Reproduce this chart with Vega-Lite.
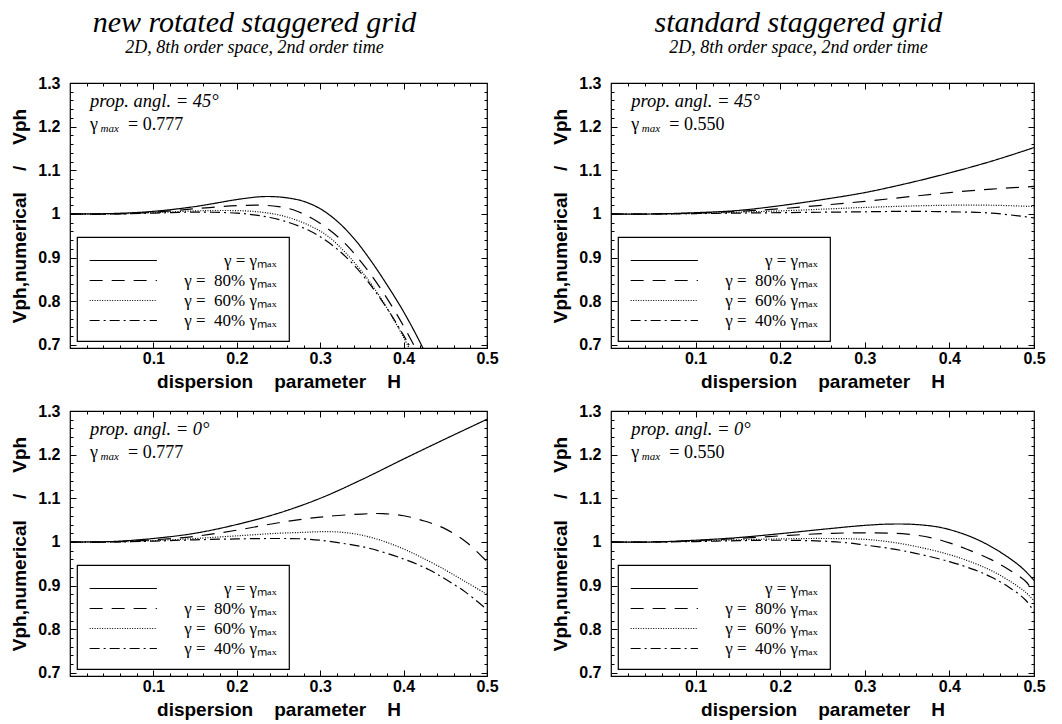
{
  "$schema": "https://vega.github.io/schema/vega-lite/v6.json",
  "padding": {"left": 10, "top": 7, "right": 5, "bottom": 2},
  "config": {
    "view": {"stroke": "black", "strokeWidth": 1.2},
    "font": "Liberation Sans",
    "axis": {"domain": false, "grid": false, "ticks": true, "tickColor": "black", "tickWidth": 1, "labelColor": "black", "labelFont": "Liberation Sans", "labelFontWeight": "bold", "labelFontSize": 16, "titleColor": "black", "titleFont": "Liberation Sans", "titleFontWeight": "bold", "titleFontSize": 19, "labelFlush": false, "labelOverlap": false},
    "title": {"font": "Liberation Serif", "fontStyle": "italic", "fontWeight": "normal", "fontSize": 30, "color": "black", "subtitleFont": "Liberation Serif", "subtitleFontStyle": "italic", "subtitleFontSize": 18, "subtitleColor": "black", "anchor": "middle", "frame": "bounds", "offset": 18, "subtitlePadding": 1},
    "legend": {"orient": "bottom-left", "offset": 7, "title": null, "symbolType": "M-1,0H5.2", "symbolSize": 471, "symbolStrokeWidth": 1.2, "symbolStrokeColor": "black", "symbolFillColor": "transparent", "labelAlign": "right", "labelOffset": 164.6, "labelFont": "Liberation Serif", "labelFontSize": 17, "labelColor": "black", "labelLimit": 300, "strokeColor": "black", "strokeWidth": 1.2, "padding": 12, "rowPadding": 0, "fillColor": "white"}
  },
  "datasets": {
    "tl": [
      {"s":"100","H":0,"v":1.000},{"s":"100","H":0.05,"v":1.001},{"s":"100","H":0.1,"v":1.006},{"s":"100","H":0.15,"v":1.017},{"s":"100","H":0.2,"v":1.033},{"s":"100","H":0.225,"v":1.039},{"s":"100","H":0.24,"v":1.040},{"s":"100","H":0.26,"v":1.037},{"s":"100","H":0.28,"v":1.029},{"s":"100","H":0.3,"v":1.012},{"s":"100","H":0.32,"v":0.984},{"s":"100","H":0.34,"v":0.945},{"s":"100","H":0.36,"v":0.895},{"s":"100","H":0.38,"v":0.838},{"s":"100","H":0.4,"v":0.776},{"s":"100","H":0.42,"v":0.705},{"s":"100","H":0.44,"v":0.625},
      {"s":"80","H":0,"v":1.000},{"s":"80","H":0.05,"v":1.000},{"s":"80","H":0.1,"v":1.004},{"s":"80","H":0.15,"v":1.012},{"s":"80","H":0.2,"v":1.019},{"s":"80","H":0.23,"v":1.020},{"s":"80","H":0.25,"v":1.017},{"s":"80","H":0.27,"v":1.008},{"s":"80","H":0.29,"v":0.990},{"s":"80","H":0.31,"v":0.965},{"s":"80","H":0.33,"v":0.932},{"s":"80","H":0.35,"v":0.888},{"s":"80","H":0.37,"v":0.836},{"s":"80","H":0.39,"v":0.776},{"s":"80","H":0.41,"v":0.708},{"s":"80","H":0.43,"v":0.632},
      {"s":"60","H":0,"v":1.000},{"s":"60","H":0.05,"v":1.000},{"s":"60","H":0.1,"v":1.003},{"s":"60","H":0.15,"v":1.007},{"s":"60","H":0.18,"v":1.008},{"s":"60","H":0.21,"v":1.007},{"s":"60","H":0.23,"v":1.004},{"s":"60","H":0.25,"v":0.998},{"s":"60","H":0.27,"v":0.987},{"s":"60","H":0.29,"v":0.971},{"s":"60","H":0.31,"v":0.948},{"s":"60","H":0.33,"v":0.912},{"s":"60","H":0.35,"v":0.868},{"s":"60","H":0.37,"v":0.815},{"s":"60","H":0.39,"v":0.752},{"s":"60","H":0.41,"v":0.680},{"s":"60","H":0.43,"v":0.600},
      {"s":"40","H":0,"v":1.000},{"s":"40","H":0.05,"v":1.000},{"s":"40","H":0.1,"v":1.002},{"s":"40","H":0.14,"v":1.004},{"s":"40","H":0.17,"v":1.004},{"s":"40","H":0.2,"v":1.002},{"s":"40","H":0.22,"v":0.998},{"s":"40","H":0.24,"v":0.992},{"s":"40","H":0.26,"v":0.982},{"s":"40","H":0.28,"v":0.968},{"s":"40","H":0.3,"v":0.948},{"s":"40","H":0.32,"v":0.920},{"s":"40","H":0.34,"v":0.884},{"s":"40","H":0.36,"v":0.838},{"s":"40","H":0.38,"v":0.784},{"s":"40","H":0.4,"v":0.722},{"s":"40","H":0.42,"v":0.652}
    ],
    "tr": [
      {"s":"100","H":0,"v":1.000},{"s":"100","H":0.05,"v":1.000},{"s":"100","H":0.1,"v":1.003},{"s":"100","H":0.15,"v":1.008},{"s":"100","H":0.2,"v":1.019},{"s":"100","H":0.25,"v":1.033},{"s":"100","H":0.3,"v":1.049},{"s":"100","H":0.35,"v":1.070},{"s":"100","H":0.4,"v":1.094},{"s":"100","H":0.45,"v":1.121},{"s":"100","H":0.5,"v":1.152},
      {"s":"80","H":0,"v":1.000},{"s":"80","H":0.05,"v":1.000},{"s":"80","H":0.1,"v":1.002},{"s":"80","H":0.15,"v":1.006},{"s":"80","H":0.2,"v":1.012},{"s":"80","H":0.25,"v":1.020},{"s":"80","H":0.3,"v":1.029},{"s":"80","H":0.35,"v":1.039},{"s":"80","H":0.4,"v":1.049},{"s":"80","H":0.45,"v":1.057},{"s":"80","H":0.5,"v":1.063},
      {"s":"60","H":0,"v":1.000},{"s":"60","H":0.05,"v":1.000},{"s":"60","H":0.1,"v":1.001},{"s":"60","H":0.15,"v":1.004},{"s":"60","H":0.2,"v":1.007},{"s":"60","H":0.25,"v":1.011},{"s":"60","H":0.3,"v":1.015},{"s":"60","H":0.35,"v":1.018},{"s":"60","H":0.4,"v":1.020},{"s":"60","H":0.45,"v":1.020},{"s":"60","H":0.5,"v":1.017},
      {"s":"40","H":0,"v":1.000},{"s":"40","H":0.05,"v":1.000},{"s":"40","H":0.1,"v":1.001},{"s":"40","H":0.15,"v":1.002},{"s":"40","H":0.2,"v":1.003},{"s":"40","H":0.25,"v":1.004},{"s":"40","H":0.3,"v":1.005},{"s":"40","H":0.35,"v":1.006},{"s":"40","H":0.4,"v":1.005},{"s":"40","H":0.45,"v":1.002},{"s":"40","H":0.5,"v":0.991}
    ],
    "bl": [
      {"s":"100","H":0,"v":1.000},{"s":"100","H":0.05,"v":1.001},{"s":"100","H":0.1,"v":1.008},{"s":"100","H":0.15,"v":1.020},{"s":"100","H":0.2,"v":1.040},{"s":"100","H":0.25,"v":1.066},{"s":"100","H":0.3,"v":1.100},{"s":"100","H":0.35,"v":1.143},{"s":"100","H":0.4,"v":1.190},{"s":"100","H":0.45,"v":1.236},{"s":"100","H":0.5,"v":1.281},
      {"s":"80","H":0,"v":1.000},{"s":"80","H":0.05,"v":1.000},{"s":"80","H":0.1,"v":1.005},{"s":"80","H":0.15,"v":1.013},{"s":"80","H":0.2,"v":1.027},{"s":"80","H":0.25,"v":1.044},{"s":"80","H":0.3,"v":1.057},{"s":"80","H":0.35,"v":1.064},{"s":"80","H":0.375,"v":1.065},{"s":"80","H":0.4,"v":1.060},{"s":"80","H":0.425,"v":1.048},{"s":"80","H":0.45,"v":1.030},{"s":"80","H":0.475,"v":1.000},{"s":"80","H":0.5,"v":0.955},
      {"s":"60","H":0,"v":1.000},{"s":"60","H":0.05,"v":1.000},{"s":"60","H":0.1,"v":1.003},{"s":"60","H":0.15,"v":1.008},{"s":"60","H":0.2,"v":1.014},{"s":"60","H":0.25,"v":1.020},{"s":"60","H":0.28,"v":1.022},{"s":"60","H":0.3,"v":1.0235},{"s":"60","H":0.32,"v":1.023},{"s":"60","H":0.34,"v":1.019},{"s":"60","H":0.36,"v":1.011},{"s":"60","H":0.38,"v":0.999},{"s":"60","H":0.4,"v":0.984},{"s":"60","H":0.42,"v":0.966},{"s":"60","H":0.45,"v":0.936},{"s":"60","H":0.475,"v":0.908},{"s":"60","H":0.5,"v":0.880},
      {"s":"40","H":0,"v":1.000},{"s":"40","H":0.05,"v":1.000},{"s":"40","H":0.1,"v":1.002},{"s":"40","H":0.15,"v":1.005},{"s":"40","H":0.2,"v":1.007},{"s":"40","H":0.25,"v":1.008},{"s":"40","H":0.28,"v":1.007},{"s":"40","H":0.3,"v":1.004},{"s":"40","H":0.33,"v":0.996},{"s":"40","H":0.36,"v":0.985},{"s":"40","H":0.4,"v":0.961},{"s":"40","H":0.43,"v":0.937},{"s":"40","H":0.45,"v":0.915},{"s":"40","H":0.475,"v":0.884},{"s":"40","H":0.5,"v":0.845}
    ],
    "br": [
      {"s":"100","H":0,"v":1.000},{"s":"100","H":0.05,"v":1.000},{"s":"100","H":0.1,"v":1.004},{"s":"100","H":0.15,"v":1.010},{"s":"100","H":0.2,"v":1.019},{"s":"100","H":0.25,"v":1.029},{"s":"100","H":0.3,"v":1.038},{"s":"100","H":0.33,"v":1.041},{"s":"100","H":0.36,"v":1.040},{"s":"100","H":0.39,"v":1.033},{"s":"100","H":0.42,"v":1.016},{"s":"100","H":0.44,"v":0.999},{"s":"100","H":0.46,"v":0.977},{"s":"100","H":0.48,"v":0.950},{"s":"100","H":0.49,"v":0.933},{"s":"100","H":0.5,"v":0.912},
      {"s":"80","H":0,"v":1.000},{"s":"80","H":0.05,"v":1.000},{"s":"80","H":0.1,"v":1.003},{"s":"80","H":0.15,"v":1.008},{"s":"80","H":0.2,"v":1.014},{"s":"80","H":0.25,"v":1.019},{"s":"80","H":0.3,"v":1.021},{"s":"80","H":0.35,"v":1.018},{"s":"80","H":0.38,"v":1.009},{"s":"80","H":0.4,"v":0.998},{"s":"80","H":0.42,"v":0.984},{"s":"80","H":0.45,"v":0.959},{"s":"80","H":0.47,"v":0.937},{"s":"80","H":0.49,"v":0.910},{"s":"80","H":0.5,"v":0.884},
      {"s":"60","H":0,"v":1.000},{"s":"60","H":0.05,"v":1.000},{"s":"60","H":0.1,"v":1.002},{"s":"60","H":0.15,"v":1.005},{"s":"60","H":0.2,"v":1.007},{"s":"60","H":0.25,"v":1.008},{"s":"60","H":0.3,"v":1.006},{"s":"60","H":0.33,"v":1.000},{"s":"60","H":0.36,"v":0.990},{"s":"60","H":0.4,"v":0.971},{"s":"60","H":0.43,"v":0.951},{"s":"60","H":0.45,"v":0.934},{"s":"60","H":0.47,"v":0.912},{"s":"60","H":0.49,"v":0.885},{"s":"60","H":0.5,"v":0.865},
      {"s":"40","H":0,"v":1.000},{"s":"40","H":0.05,"v":1.000},{"s":"40","H":0.1,"v":1.001},{"s":"40","H":0.15,"v":1.003},{"s":"40","H":0.2,"v":1.004},{"s":"40","H":0.25,"v":1.002},{"s":"40","H":0.28,"v":0.998},{"s":"40","H":0.3,"v":0.993},{"s":"40","H":0.33,"v":0.985},{"s":"40","H":0.36,"v":0.974},{"s":"40","H":0.4,"v":0.955},{"s":"40","H":0.43,"v":0.936},{"s":"40","H":0.45,"v":0.919},{"s":"40","H":0.47,"v":0.897},{"s":"40","H":0.49,"v":0.867},{"s":"40","H":0.5,"v":0.840}
    ]
  },
  "columns": 2,
  "spacing": {"row": 10, "column": 52},
  "resolve": {"scale": {"strokeDash": "independent"}, "legend": {"strokeDash": "independent"}},
  "concat": [
    {
      "width": 417, "height": 265,
      "title": {"text": "new rotated staggered grid", "subtitle": "2D, 8th order space, 2nd order time"},
      "resolve": {"axis": {"x": "independent", "y": "independent"}},
      "layer": [
        {
          "data": {"name": "tl"},
          "mark": {"type": "line", "clip": true, "color": "black", "strokeWidth": 1.2, "interpolate": "catmull-rom"},
          "encoding": {
            "x": {"field": "H", "type": "quantitative", "scale": {"domain": [0, 0.5], "nice": false, "zero": false},
              "axis": {"orient": "bottom", "values": [0.1,0.2,0.3,0.4,0.5], "format": "~g", "tickSize": -6, "labelPadding": 8, "title": "dispersion \u00a0\u00a0 parameter \u00a0\u00a0 H", "titlePadding": 6}},
            "y": {"field": "v", "type": "quantitative", "scale": {"domain": [0.693, 1.3], "nice": false, "zero": false},
              "axis": {"orient": "left", "values": [0.7,0.8,0.9,1,1.1,1.2,1.3], "format": "~g", "tickSize": -6, "labelPadding": 16, "title": "Vph,numerical \u00a0\u00a0 / \u00a0\u00a0 Vph", "titlePadding": 8}},
            "strokeDash": {"field": "s", "type": "nominal", "scale": {"domain": ["100","80","60","40"], "range": [[1,0],[13,9],[1,1.5],[10,4,2,4]]},
              "legend": {"labelExpr": "datum.value == '100' ? 'γ = γₘₐₓ' : 'γ = \u00a0' + datum.value + '% γₘₐₓ'"}}
          }
        },
        {
          "data": {"values": [{}]},
          "mark": {"type": "text", "font": "Liberation Serif", "fontStyle": "italic", "fontSize": 18.5, "align": "left", "baseline": "alphabetic", "color": "black"},
          "encoding": {
            "x": {"datum": 0.024, "type": "quantitative", "scale": {"domain": [0, 0.5], "nice": false, "zero": false},
              "axis": {"orient": "bottom", "values": [0.02,0.04,0.06,0.08,0.12,0.14,0.16,0.18,0.22,0.24,0.26,0.28,0.32,0.34,0.36,0.38,0.42,0.44,0.46,0.48], "labels": false, "title": null, "tickSize": -3}},
            "y": {"datum": 1.245, "type": "quantitative", "scale": {"domain": [0.693, 1.3], "nice": false, "zero": false},
              "axis": {"orient": "left", "values": [0.72,0.74,0.76,0.78,0.82,0.84,0.86,0.88,0.92,0.94,0.96,0.98,1.02,1.04,1.06,1.08,1.12,1.14,1.16,1.18,1.22,1.24,1.26,1.28], "labels": false, "title": null, "tickSize": -3}},
            "text": {"value": "prop. angl. = 45°"}
          }
        },
        {
          "data": {"values": [{}]},
          "mark": {"type": "text", "font": "Liberation Serif", "fontSize": 18, "align": "left", "baseline": "alphabetic", "color": "black"},
          "encoding": {
            "x": {"datum": 0.024, "type": "quantitative", "scale": {"domain": [0, 0.5], "nice": false, "zero": false},
              "axis": {"orient": "top", "values": [0.1,0.2,0.3,0.4], "labels": false, "title": null, "tickSize": -6}},
            "y": {"datum": 1.192, "type": "quantitative", "scale": {"domain": [0.693, 1.3], "nice": false, "zero": false},
              "axis": {"orient": "right", "values": [0.7,0.8,0.9,1,1.1,1.2], "labels": false, "title": null, "tickSize": -6}},
            "text": {"value": "γ"}
          }
        },
        {
          "data": {"values": [{}]},
          "mark": {"type": "text", "font": "Liberation Serif", "fontStyle": "italic", "fontSize": 11, "align": "left", "baseline": "alphabetic", "color": "black", "dx": 10.5, "dy": 2},
          "encoding": {
            "x": {"datum": 0.024, "type": "quantitative", "scale": {"domain": [0, 0.5], "nice": false, "zero": false},
              "axis": {"orient": "top", "values": [0.02,0.04,0.06,0.08,0.12,0.14,0.16,0.18,0.22,0.24,0.26,0.28,0.32,0.34,0.36,0.38,0.42,0.44,0.46,0.48], "labels": false, "title": null, "tickSize": -3}},
            "y": {"datum": 1.192, "type": "quantitative", "scale": {"domain": [0.693, 1.3], "nice": false, "zero": false},
              "axis": {"orient": "right", "values": [0.72,0.74,0.76,0.78,0.82,0.84,0.86,0.88,0.92,0.94,0.96,0.98,1.02,1.04,1.06,1.08,1.12,1.14,1.16,1.18,1.22,1.24,1.26,1.28], "labels": false, "title": null, "tickSize": -3}},
            "text": {"value": "max"}
          }
        },
        {
          "data": {"values": [{}]},
          "mark": {"type": "text", "font": "Liberation Serif", "fontSize": 18, "align": "left", "baseline": "alphabetic", "color": "black", "dx": 38},
          "encoding": {"x": {"datum": 0.024, "type": "quantitative", "axis": null}, "y": {"datum": 1.192, "type": "quantitative", "axis": null}, "text": {"value": "= 0.777"}}
        }
      ]
    },
    {
      "width": 423, "height": 265,
      "title": {"text": "standard staggered grid", "subtitle": "2D, 8th order space, 2nd order time"},
      "resolve": {"axis": {"x": "independent", "y": "independent"}},
      "layer": [
        {
          "data": {"name": "tr"},
          "mark": {"type": "line", "clip": true, "color": "black", "strokeWidth": 1.2, "interpolate": "catmull-rom"},
          "encoding": {
            "x": {"field": "H", "type": "quantitative", "scale": {"domain": [0, 0.5], "nice": false, "zero": false},
              "axis": {"orient": "bottom", "values": [0.1,0.2,0.3,0.4,0.5], "format": "~g", "tickSize": -6, "labelPadding": 8, "title": "dispersion \u00a0\u00a0 parameter \u00a0\u00a0 H", "titlePadding": 6}},
            "y": {"field": "v", "type": "quantitative", "scale": {"domain": [0.693, 1.3], "nice": false, "zero": false},
              "axis": {"orient": "left", "values": [0.7,0.8,0.9,1,1.1,1.2,1.3], "format": "~g", "tickSize": -6, "labelPadding": 16, "title": "Vph,numerical \u00a0\u00a0 / \u00a0\u00a0 Vph", "titlePadding": 8}},
            "strokeDash": {"field": "s", "type": "nominal", "scale": {"domain": ["100","80","60","40"], "range": [[1,0],[13,9],[1,1.5],[10,4,2,4]]},
              "legend": {"labelExpr": "datum.value == '100' ? 'γ = γₘₐₓ' : 'γ = \u00a0' + datum.value + '% γₘₐₓ'"}}
          }
        },
        {
          "data": {"values": [{}]},
          "mark": {"type": "text", "font": "Liberation Serif", "fontStyle": "italic", "fontSize": 18.5, "align": "left", "baseline": "alphabetic", "color": "black"},
          "encoding": {
            "x": {"datum": 0.024, "type": "quantitative", "scale": {"domain": [0, 0.5], "nice": false, "zero": false},
              "axis": {"orient": "bottom", "values": [0.02,0.04,0.06,0.08,0.12,0.14,0.16,0.18,0.22,0.24,0.26,0.28,0.32,0.34,0.36,0.38,0.42,0.44,0.46,0.48], "labels": false, "title": null, "tickSize": -3}},
            "y": {"datum": 1.245, "type": "quantitative", "scale": {"domain": [0.693, 1.3], "nice": false, "zero": false},
              "axis": {"orient": "left", "values": [0.72,0.74,0.76,0.78,0.82,0.84,0.86,0.88,0.92,0.94,0.96,0.98,1.02,1.04,1.06,1.08,1.12,1.14,1.16,1.18,1.22,1.24,1.26,1.28], "labels": false, "title": null, "tickSize": -3}},
            "text": {"value": "prop. angl. = 45°"}
          }
        },
        {
          "data": {"values": [{}]},
          "mark": {"type": "text", "font": "Liberation Serif", "fontSize": 18, "align": "left", "baseline": "alphabetic", "color": "black"},
          "encoding": {
            "x": {"datum": 0.024, "type": "quantitative", "scale": {"domain": [0, 0.5], "nice": false, "zero": false},
              "axis": {"orient": "top", "values": [0.1,0.2,0.3,0.4], "labels": false, "title": null, "tickSize": -6}},
            "y": {"datum": 1.192, "type": "quantitative", "scale": {"domain": [0.693, 1.3], "nice": false, "zero": false},
              "axis": {"orient": "right", "values": [0.7,0.8,0.9,1,1.1,1.2], "labels": false, "title": null, "tickSize": -6}},
            "text": {"value": "γ"}
          }
        },
        {
          "data": {"values": [{}]},
          "mark": {"type": "text", "font": "Liberation Serif", "fontStyle": "italic", "fontSize": 11, "align": "left", "baseline": "alphabetic", "color": "black", "dx": 10.5, "dy": 2},
          "encoding": {
            "x": {"datum": 0.024, "type": "quantitative", "scale": {"domain": [0, 0.5], "nice": false, "zero": false},
              "axis": {"orient": "top", "values": [0.02,0.04,0.06,0.08,0.12,0.14,0.16,0.18,0.22,0.24,0.26,0.28,0.32,0.34,0.36,0.38,0.42,0.44,0.46,0.48], "labels": false, "title": null, "tickSize": -3}},
            "y": {"datum": 1.192, "type": "quantitative", "scale": {"domain": [0.693, 1.3], "nice": false, "zero": false},
              "axis": {"orient": "right", "values": [0.72,0.74,0.76,0.78,0.82,0.84,0.86,0.88,0.92,0.94,0.96,0.98,1.02,1.04,1.06,1.08,1.12,1.14,1.16,1.18,1.22,1.24,1.26,1.28], "labels": false, "title": null, "tickSize": -3}},
            "text": {"value": "max"}
          }
        },
        {
          "data": {"values": [{}]},
          "mark": {"type": "text", "font": "Liberation Serif", "fontSize": 18, "align": "left", "baseline": "alphabetic", "color": "black", "dx": 38},
          "encoding": {"x": {"datum": 0.024, "type": "quantitative", "axis": null}, "y": {"datum": 1.192, "type": "quantitative", "axis": null}, "text": {"value": "= 0.550"}}
        }
      ]
    },
    {
      "width": 417, "height": 265,
      "resolve": {"axis": {"x": "independent", "y": "independent"}},
      "layer": [
        {
          "data": {"name": "bl"},
          "mark": {"type": "line", "clip": true, "color": "black", "strokeWidth": 1.2, "interpolate": "catmull-rom"},
          "encoding": {
            "x": {"field": "H", "type": "quantitative", "scale": {"domain": [0, 0.5], "nice": false, "zero": false},
              "axis": {"orient": "bottom", "values": [0.1,0.2,0.3,0.4,0.5], "format": "~g", "tickSize": -6, "labelPadding": 8, "title": "dispersion \u00a0\u00a0 parameter \u00a0\u00a0 H", "titlePadding": 6}},
            "y": {"field": "v", "type": "quantitative", "scale": {"domain": [0.693, 1.3], "nice": false, "zero": false},
              "axis": {"orient": "left", "values": [0.7,0.8,0.9,1,1.1,1.2,1.3], "format": "~g", "tickSize": -6, "labelPadding": 16, "title": "Vph,numerical \u00a0\u00a0 / \u00a0\u00a0 Vph", "titlePadding": 8}},
            "strokeDash": {"field": "s", "type": "nominal", "scale": {"domain": ["100","80","60","40"], "range": [[1,0],[13,9],[1,1.5],[10,4,2,4]]},
              "legend": {"labelExpr": "datum.value == '100' ? 'γ = γₘₐₓ' : 'γ = \u00a0' + datum.value + '% γₘₐₓ'"}}
          }
        },
        {
          "data": {"values": [{}]},
          "mark": {"type": "text", "font": "Liberation Serif", "fontStyle": "italic", "fontSize": 18.5, "align": "left", "baseline": "alphabetic", "color": "black"},
          "encoding": {
            "x": {"datum": 0.024, "type": "quantitative", "scale": {"domain": [0, 0.5], "nice": false, "zero": false},
              "axis": {"orient": "bottom", "values": [0.02,0.04,0.06,0.08,0.12,0.14,0.16,0.18,0.22,0.24,0.26,0.28,0.32,0.34,0.36,0.38,0.42,0.44,0.46,0.48], "labels": false, "title": null, "tickSize": -3}},
            "y": {"datum": 1.245, "type": "quantitative", "scale": {"domain": [0.693, 1.3], "nice": false, "zero": false},
              "axis": {"orient": "left", "values": [0.72,0.74,0.76,0.78,0.82,0.84,0.86,0.88,0.92,0.94,0.96,0.98,1.02,1.04,1.06,1.08,1.12,1.14,1.16,1.18,1.22,1.24,1.26,1.28], "labels": false, "title": null, "tickSize": -3}},
            "text": {"value": "prop. angl. = 0°"}
          }
        },
        {
          "data": {"values": [{}]},
          "mark": {"type": "text", "font": "Liberation Serif", "fontSize": 18, "align": "left", "baseline": "alphabetic", "color": "black"},
          "encoding": {
            "x": {"datum": 0.024, "type": "quantitative", "scale": {"domain": [0, 0.5], "nice": false, "zero": false},
              "axis": {"orient": "top", "values": [0.1,0.2,0.3,0.4], "labels": false, "title": null, "tickSize": -6}},
            "y": {"datum": 1.192, "type": "quantitative", "scale": {"domain": [0.693, 1.3], "nice": false, "zero": false},
              "axis": {"orient": "right", "values": [0.7,0.8,0.9,1,1.1,1.2], "labels": false, "title": null, "tickSize": -6}},
            "text": {"value": "γ"}
          }
        },
        {
          "data": {"values": [{}]},
          "mark": {"type": "text", "font": "Liberation Serif", "fontStyle": "italic", "fontSize": 11, "align": "left", "baseline": "alphabetic", "color": "black", "dx": 10.5, "dy": 2},
          "encoding": {
            "x": {"datum": 0.024, "type": "quantitative", "scale": {"domain": [0, 0.5], "nice": false, "zero": false},
              "axis": {"orient": "top", "values": [0.02,0.04,0.06,0.08,0.12,0.14,0.16,0.18,0.22,0.24,0.26,0.28,0.32,0.34,0.36,0.38,0.42,0.44,0.46,0.48], "labels": false, "title": null, "tickSize": -3}},
            "y": {"datum": 1.192, "type": "quantitative", "scale": {"domain": [0.693, 1.3], "nice": false, "zero": false},
              "axis": {"orient": "right", "values": [0.72,0.74,0.76,0.78,0.82,0.84,0.86,0.88,0.92,0.94,0.96,0.98,1.02,1.04,1.06,1.08,1.12,1.14,1.16,1.18,1.22,1.24,1.26,1.28], "labels": false, "title": null, "tickSize": -3}},
            "text": {"value": "max"}
          }
        },
        {
          "data": {"values": [{}]},
          "mark": {"type": "text", "font": "Liberation Serif", "fontSize": 18, "align": "left", "baseline": "alphabetic", "color": "black", "dx": 38},
          "encoding": {"x": {"datum": 0.024, "type": "quantitative", "axis": null}, "y": {"datum": 1.192, "type": "quantitative", "axis": null}, "text": {"value": "= 0.777"}}
        }
      ]
    },
    {
      "width": 423, "height": 265,
      "resolve": {"axis": {"x": "independent", "y": "independent"}},
      "layer": [
        {
          "data": {"name": "br"},
          "mark": {"type": "line", "clip": true, "color": "black", "strokeWidth": 1.2, "interpolate": "catmull-rom"},
          "encoding": {
            "x": {"field": "H", "type": "quantitative", "scale": {"domain": [0, 0.5], "nice": false, "zero": false},
              "axis": {"orient": "bottom", "values": [0.1,0.2,0.3,0.4,0.5], "format": "~g", "tickSize": -6, "labelPadding": 8, "title": "dispersion \u00a0\u00a0 parameter \u00a0\u00a0 H", "titlePadding": 6}},
            "y": {"field": "v", "type": "quantitative", "scale": {"domain": [0.693, 1.3], "nice": false, "zero": false},
              "axis": {"orient": "left", "values": [0.7,0.8,0.9,1,1.1,1.2,1.3], "format": "~g", "tickSize": -6, "labelPadding": 16, "title": "Vph,numerical \u00a0\u00a0 / \u00a0\u00a0 Vph", "titlePadding": 8}},
            "strokeDash": {"field": "s", "type": "nominal", "scale": {"domain": ["100","80","60","40"], "range": [[1,0],[13,9],[1,1.5],[10,4,2,4]]},
              "legend": {"labelExpr": "datum.value == '100' ? 'γ = γₘₐₓ' : 'γ = \u00a0' + datum.value + '% γₘₐₓ'"}}
          }
        },
        {
          "data": {"values": [{}]},
          "mark": {"type": "text", "font": "Liberation Serif", "fontStyle": "italic", "fontSize": 18.5, "align": "left", "baseline": "alphabetic", "color": "black"},
          "encoding": {
            "x": {"datum": 0.024, "type": "quantitative", "scale": {"domain": [0, 0.5], "nice": false, "zero": false},
              "axis": {"orient": "bottom", "values": [0.02,0.04,0.06,0.08,0.12,0.14,0.16,0.18,0.22,0.24,0.26,0.28,0.32,0.34,0.36,0.38,0.42,0.44,0.46,0.48], "labels": false, "title": null, "tickSize": -3}},
            "y": {"datum": 1.245, "type": "quantitative", "scale": {"domain": [0.693, 1.3], "nice": false, "zero": false},
              "axis": {"orient": "left", "values": [0.72,0.74,0.76,0.78,0.82,0.84,0.86,0.88,0.92,0.94,0.96,0.98,1.02,1.04,1.06,1.08,1.12,1.14,1.16,1.18,1.22,1.24,1.26,1.28], "labels": false, "title": null, "tickSize": -3}},
            "text": {"value": "prop. angl. = 0°"}
          }
        },
        {
          "data": {"values": [{}]},
          "mark": {"type": "text", "font": "Liberation Serif", "fontSize": 18, "align": "left", "baseline": "alphabetic", "color": "black"},
          "encoding": {
            "x": {"datum": 0.024, "type": "quantitative", "scale": {"domain": [0, 0.5], "nice": false, "zero": false},
              "axis": {"orient": "top", "values": [0.1,0.2,0.3,0.4], "labels": false, "title": null, "tickSize": -6}},
            "y": {"datum": 1.192, "type": "quantitative", "scale": {"domain": [0.693, 1.3], "nice": false, "zero": false},
              "axis": {"orient": "right", "values": [0.7,0.8,0.9,1,1.1,1.2], "labels": false, "title": null, "tickSize": -6}},
            "text": {"value": "γ"}
          }
        },
        {
          "data": {"values": [{}]},
          "mark": {"type": "text", "font": "Liberation Serif", "fontStyle": "italic", "fontSize": 11, "align": "left", "baseline": "alphabetic", "color": "black", "dx": 10.5, "dy": 2},
          "encoding": {
            "x": {"datum": 0.024, "type": "quantitative", "scale": {"domain": [0, 0.5], "nice": false, "zero": false},
              "axis": {"orient": "top", "values": [0.02,0.04,0.06,0.08,0.12,0.14,0.16,0.18,0.22,0.24,0.26,0.28,0.32,0.34,0.36,0.38,0.42,0.44,0.46,0.48], "labels": false, "title": null, "tickSize": -3}},
            "y": {"datum": 1.192, "type": "quantitative", "scale": {"domain": [0.693, 1.3], "nice": false, "zero": false},
              "axis": {"orient": "right", "values": [0.72,0.74,0.76,0.78,0.82,0.84,0.86,0.88,0.92,0.94,0.96,0.98,1.02,1.04,1.06,1.08,1.12,1.14,1.16,1.18,1.22,1.24,1.26,1.28], "labels": false, "title": null, "tickSize": -3}},
            "text": {"value": "max"}
          }
        },
        {
          "data": {"values": [{}]},
          "mark": {"type": "text", "font": "Liberation Serif", "fontSize": 18, "align": "left", "baseline": "alphabetic", "color": "black", "dx": 38},
          "encoding": {"x": {"datum": 0.024, "type": "quantitative", "axis": null}, "y": {"datum": 1.192, "type": "quantitative", "axis": null}, "text": {"value": "= 0.550"}}
        }
      ]
    }
  ]
}
